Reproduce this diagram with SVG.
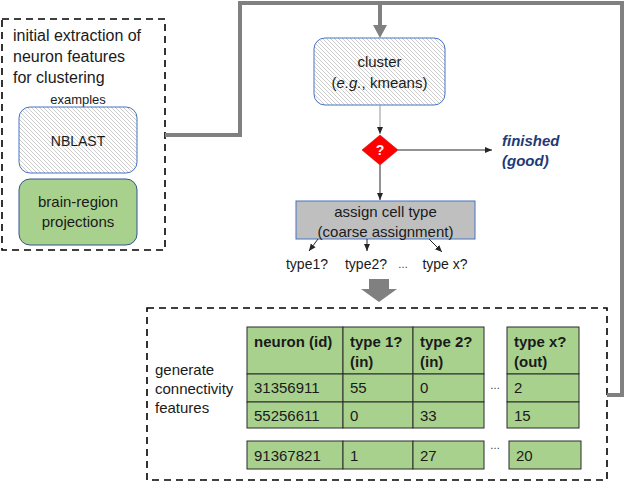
<svg xmlns="http://www.w3.org/2000/svg" width="627" height="484" viewBox="0 0 627 484">
<defs>
<pattern id="hatch" width="4" height="4" patternUnits="userSpaceOnUse">
<rect width="4" height="4" fill="#ffffff"/>
<path d="M-1,-1 L5,5 M-1,3 L1,5 M3,-1 L5,1" stroke="#b8b8b8" stroke-width="0.7"/>
</pattern>
<marker id="ah" markerWidth="8" markerHeight="8" refX="7" refY="4" orient="auto" markerUnits="userSpaceOnUse">
<path d="M0,1 L7,4 L0,7 Z" fill="#262626"/>
</marker>
</defs>
<style>
text{font-family:"Liberation Sans",Arial,sans-serif;fill:#1a1a1a;}
.t16{font-size:16px;}
.t15{font-size:15px;}
.t14{font-size:14px;}
.t13{font-size:13px;}
.b{font-weight:bold;}
.dash{fill:none;stroke:#000;stroke-width:1.6;stroke-dasharray:7,5;}
.hbox{fill:url(#hatch);stroke:#4472c4;stroke-width:1;}
.cell{fill:#a9d18e;stroke:#2b2b2b;stroke-width:1;}
.thin{stroke:#262626;stroke-width:1;fill:none;}
.gray{stroke:#808080;stroke-width:4;fill:none;}
</style>

<g id="features-box">
<rect class="dash" x="2" y="19" width="163" height="231"/>
<text class="t16" x="13" y="41">initial extraction of</text>
<text class="t16" x="13" y="62">neuron features</text>
<text class="t16" x="13" y="83">for clustering</text>
<text class="t13" x="78" y="104" text-anchor="middle">examples</text>
</g>
<g id="nblast">
<rect class="hbox" x="19" y="107" width="118" height="66" rx="11"/>
<text class="t14" x="78" y="146" text-anchor="middle">NBLAST</text>
</g>
<g id="brain-region">
<rect x="19" y="179" width="118" height="66" rx="11" fill="#a9d18e" stroke="#2f5597" stroke-width="1"/>
<text class="t15" x="78" y="207" text-anchor="middle">brain-region</text>
<text class="t15" x="78" y="227" text-anchor="middle">projections</text>
</g>

<g id="cluster">
<rect class="hbox" x="314" y="38" width="131" height="67" rx="11"/>
<text class="t15" x="379.500" y="67" text-anchor="middle">cluster</text>
<text class="t15" x="379.500" y="88" text-anchor="middle">(<tspan font-style="italic">e.g.</tspan>, kmeans)</text>
</g>

<g id="decision">
<polygon points="380,135 398,150 380,165 362,150" fill="#ff0000" stroke="#c00000" stroke-width="0.5"/>
<text class="t14 b" x="380" y="155" text-anchor="middle" style="fill:#ffffff">?</text>
</g>

<g id="finished">
<text class="t15 b" x="502" y="146" font-style="italic" style="fill:#1f3a78">finished</text>
<text class="t15 b" x="502" y="166" font-style="italic" style="fill:#1f3a78">(good)</text>
</g>

<g id="assign">
<rect x="296" y="201" width="179" height="38" fill="#bfbfbf" stroke="#4472c4" stroke-width="1"/>
<text class="t15" x="385.500" y="217" text-anchor="middle">assign cell type</text>
<text class="t15" x="385.500" y="237" text-anchor="middle">(coarse assignment)</text>
</g>

<g id="type-labels">
<text class="t14" x="307" y="269" text-anchor="middle">type1?</text>
<text class="t14" x="366" y="269" text-anchor="middle">type2?</text>
<text x="403" y="268" text-anchor="middle" font-size="10">…</text>
<text class="t14" x="445" y="269" text-anchor="middle">type x?</text>
</g>

<g id="connectivity-box">
<rect class="dash" x="147" y="308" width="460" height="172"/>
<text class="t15" x="155" y="375">generate</text>
<text class="t15" x="155" y="394">connectivity</text>
<text class="t15" x="155" y="413">features</text>
</g>

<g id="table">
<rect class="cell" x="247" y="327" width="96" height="47"/>
<rect class="cell" x="343" y="327" width="70" height="47"/>
<rect class="cell" x="413" y="327" width="71" height="47"/>
<rect class="cell" x="507" y="327" width="72" height="47"/>
<rect class="cell" x="247" y="374" width="96" height="28"/>
<rect class="cell" x="343" y="374" width="70" height="28"/>
<rect class="cell" x="413" y="374" width="71" height="28"/>
<rect class="cell" x="507" y="374" width="72" height="28"/>
<rect class="cell" x="247" y="402" width="96" height="26"/>
<rect class="cell" x="343" y="402" width="70" height="26"/>
<rect class="cell" x="413" y="402" width="71" height="26"/>
<rect class="cell" x="507" y="402" width="72" height="26"/>
<rect class="cell" x="247" y="441" width="96" height="28"/>
<rect class="cell" x="343" y="441" width="70" height="28"/>
<rect class="cell" x="413" y="441" width="71" height="28"/>
<rect class="cell" x="509" y="441" width="72" height="28"/>
<text class="t15 b" x="254" y="347">neuron (id)</text>
<text class="t15 b" x="350" y="347">type 1?</text>
<text class="t15 b" x="350" y="367">(in)</text>
<text class="t15 b" x="420" y="347">type 2?</text>
<text class="t15 b" x="420" y="367">(in)</text>
<text class="t15 b" x="514" y="347">type x?</text>
<text class="t15 b" x="514" y="367">(out)</text>
<text class="t15" x="254" y="393">31356911</text>
<text class="t15" x="350" y="393">55</text>
<text class="t15" x="420" y="393">0</text>
<text class="t15" x="514" y="393">2</text>
<text class="t15" x="254" y="421">55256611</text>
<text class="t15" x="350" y="421">0</text>
<text class="t15" x="420" y="421">33</text>
<text class="t15" x="514" y="421">15</text>
<text class="t15" x="254" y="461">91367821</text>
<text class="t15" x="350" y="461">1</text>
<text class="t15" x="420" y="461">27</text>
<text class="t15" x="516" y="461">20</text>
<text x="495" y="389" text-anchor="middle" font-size="10">…</text>
<text x="495" y="449" text-anchor="middle" font-size="10">…</text>
</g>

<g id="connectors">
<path class="gray" d="M165,135 H240 V3 H622 V395 H607"/>
<path class="gray" d="M380,3 V27"/>
<polygon points="373,25 387,25 380,38" fill="#808080"/>
<polygon points="369,279 389,279 389,289 397,289 379,302 361,289 369,289" fill="#808080"/>
<line x1="380" y1="105" x2="380" y2="134" stroke="#a6a6a6" stroke-width="1.2" marker-end="url(#ah)"/>
<line class="thin" x1="398" y1="150" x2="492" y2="150" marker-end="url(#ah)"/>
<line class="thin" x1="380" y1="165" x2="380" y2="200" marker-end="url(#ah)"/>
<line class="thin" x1="318" y1="239" x2="309" y2="251" marker-end="url(#ah)"/>
<line class="thin" x1="367" y1="239" x2="367" y2="251" marker-end="url(#ah)"/>
<line class="thin" x1="429" y1="239" x2="442" y2="252" marker-end="url(#ah)"/>
</g>
</svg>
